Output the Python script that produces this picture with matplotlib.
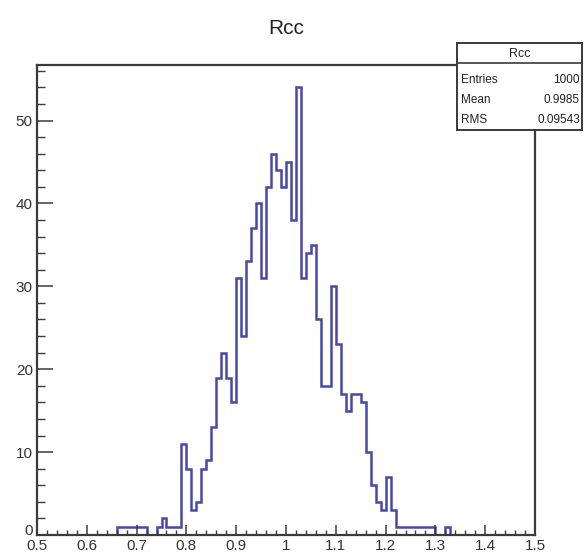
import numpy as np
import matplotlib
matplotlib.use("Agg")
import matplotlib.pyplot as plt
import matplotlib.transforms as mtransforms
from matplotlib.ticker import MultipleLocator, FuncFormatter

# Histogram definition: 100 bins between 0.5 and 1.5
x_min, x_max, n_bins = 0.5, 1.5, 100
counts = [
    0, 0, 0, 0, 0, 0, 0, 0, 0, 0,        # 0.50 - 0.59
    0, 0, 0, 0, 0, 0, 1, 1, 1, 1,        # 0.60 - 0.69
    1, 1, 0, 0, 1, 2, 1, 1, 1, 11,       # 0.70 - 0.79
    8, 3, 4, 8, 9, 13, 19, 22, 19, 16,   # 0.80 - 0.89
    31, 24, 33, 37, 40, 31, 42, 46, 44, 42,  # 0.90 - 0.99
    45, 38, 54, 31, 34, 35, 26, 18, 18, 30,  # 1.00 - 1.09
    23, 17, 15, 17, 17, 16, 10, 6, 4, 3,     # 1.10 - 1.19
    7, 3, 1, 1, 1, 1, 1, 1, 1, 1,        # 1.20 - 1.29
    0, 0, 1, 0, 0, 0, 0, 0, 0, 0,        # 1.30 - 1.39
    0, 0, 0, 0, 0, 0, 0, 0, 0, 0,        # 1.40 - 1.49
]

hist_name = "Rcc"
stat_labels = ["Entries", "Mean", "RMS"]
stat_values = ["1000", "0.9985", "0.09543"]

edges = np.linspace(x_min, x_max, n_bins + 1)
counts = np.array(counts)

W, H = 584, 558
fig = plt.figure(figsize=(W / 100, H / 100), dpi=100)
fig.patch.set_facecolor("white")

font = ["Liberation Sans", "DejaVu Sans"]
axis_col = "#3a3a3a"

# main frame
left, right, top, bottom = 37, 535, 65, 535
ax = fig.add_axes([left / W, 1 - bottom / H, (right - left) / W, (bottom - top) / H])
ax.stairs(counts, edges, color="#4848a8", linewidth=1.8)
ax.set_xlim(x_min, x_max)
ax.set_ylim(0, counts.max() * 1.05)

for s in ax.spines.values():
    s.set_color(axis_col)
    s.set_linewidth(1.6)

ax.xaxis.set_major_locator(MultipleLocator(0.1))
ax.xaxis.set_minor_locator(MultipleLocator(0.02))
ax.yaxis.set_major_locator(MultipleLocator(10))
ax.yaxis.set_minor_locator(MultipleLocator(2))
ax.xaxis.set_major_formatter(FuncFormatter(lambda v, p: f"{v:g}"))
ax.yaxis.set_major_formatter(FuncFormatter(lambda v, p: f"{v:g}"))

ax.tick_params(axis="x", which="major", direction="in", length=7.5, width=1.1,
               color=axis_col, pad=3, labelsize=11, labelcolor="#333333")
ax.tick_params(axis="x", which="minor", direction="in", length=3.8, width=1.0, color=axis_col)
ax.tick_params(axis="y", which="major", direction="in", length=11.5, width=1.1,
               color=axis_col, pad=3, labelsize=11, labelcolor="#333333")
ax.tick_params(axis="y", which="minor", direction="in", length=6, width=1.0, color=axis_col)
fig.canvas.draw()
for lbl in ax.get_xticklabels() + ax.get_yticklabels():
    lbl.set_family(font)
# lift the "0" on the y axis a little so it sits just above the x labels
for lbl in ax.get_yticklabels():
    if lbl.get_text() == "0":
        lbl.set_transform(lbl.get_transform() +
                          mtransforms.ScaledTranslation(0, 4 / 72, fig.dpi_scale_trans))

# title
fig.text(286 / W, 1 - 28 / H, hist_name, ha="center", va="center",
         fontsize=15, family=font, color="#222222")

# statistics box
bx0, bx1, by0, by1 = 457, 582, 43, 130
sb = fig.add_axes([bx0 / W, 1 - by1 / H, (bx1 - bx0) / W, (by1 - by0) / H])
sb.set_xlim(bx0, bx1)
sb.set_ylim(by1, by0)
sb.set_xticks([])
sb.set_yticks([])
sb.set_facecolor("white")
for s in sb.spines.values():
    s.set_color(axis_col)
    s.set_linewidth(1.4)
sb.plot([bx0, bx1], [63, 63], color=axis_col, lw=1.2)
sb.text((bx0 + bx1) / 2, 54, hist_name, ha="center", va="center",
        fontsize=9, family=font, color="#222222")
for k, (lab, val) in enumerate(zip(stat_labels, stat_values)):
    yy = 80 + 20 * k
    sb.text(bx0 + 4, yy, lab, ha="left", va="center", fontsize=8.5,
            family=font, color="#222222")
    sb.text(bx1 - 2, yy, val, ha="right", va="center", fontsize=8.5,
            family=font, color="#222222")

fig.savefig("out.png", dpi=100, facecolor="white")
